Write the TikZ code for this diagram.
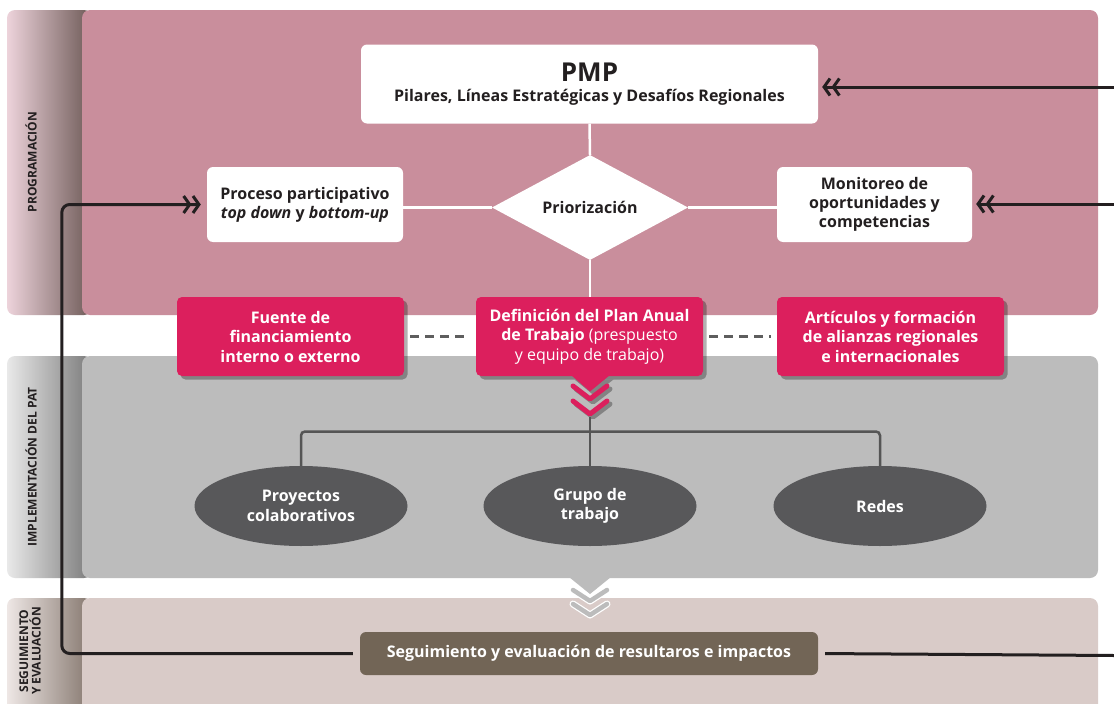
\documentclass[tikz,border=0pt]{standalone}
\usepackage{fontspec}
\setmainfont{Open Sans}
\usetikzlibrary{shapes.geometric,arrows.meta,shadows,calc}
\definecolor{pinkpanel}{HTML}{C98E9C}
\definecolor{pinkbox}{HTML}{DC1F5D}
\definecolor{graypanel}{HTML}{BCBCBC}
\definecolor{beigepanel}{HTML}{D9CBC8}
\definecolor{ellc}{HTML}{58585A}
\definecolor{segc}{HTML}{726556}
\definecolor{linec}{HTML}{231F20}
\definecolor{dashc}{HTML}{5E5E5E}
\definecolor{treec}{HTML}{555555}
\definecolor{tabAl}{HTML}{EDD3DB}
\definecolor{tabAm}{HTML}{C4A7AE}
\definecolor{tabAr}{HTML}{6E5A57}
\definecolor{tabBl}{HTML}{E9E9E9}
\definecolor{tabBm}{HTML}{C6C6C6}
\definecolor{tabBr}{HTML}{7A7A7A}
\definecolor{tabCl}{HTML}{EEE7E5}
\definecolor{tabCm}{HTML}{CFC3BF}
\definecolor{tabCr}{HTML}{85776E}
\begin{document}
\begin{tikzpicture}[x=1pt,y=-1pt,
  whitebox/.style={fill=white, rounded corners=6pt, minimum width=196pt, minimum height=75pt, align=center, inner sep=0pt, font=\bfseries\fontsize{16}{19}\selectfont, text=linec},
  pinkbx/.style={fill=pinkbox, rounded corners=5pt, minimum width=227pt, minimum height=79pt, align=center, inner sep=0pt, text=white, font=\bfseries\fontsize{16}{19.5}\selectfont,
     drop shadow={shadow xshift=3.5pt, shadow yshift=-3.5pt, fill=black, opacity=0.3}},
  ellip/.style={ellipse, fill=ellc, minimum width=213pt, minimum height=80pt, inner sep=0pt, align=center, text=white, font=\bfseries\fontsize{16}{19.5}\selectfont},
  conn/.style={line width=3pt, draw=linec},
  wline/.style={line width=2.5pt, draw=white},
  tline/.style={line width=2.5pt, draw=treec},
  dline/.style={line width=2.5pt, draw=dashc, dash pattern=on 9pt off 6pt},
  sidelabel/.style={rotate=90, align=center, text=linec, font=\bfseries\fontsize{12}{12.5}\selectfont},
  dchev/.style={-{Straight Barb[length=6pt,width=17pt] Straight Barb[length=6pt,width=17pt]}},
]
\clip (0,0) rectangle (1114,704);
\fill[white] (0,0) rectangle (1114,704);

% tabs
\shade[rounded corners=8pt, left color=tabAl, middle color=tabAm, right color=tabAr] (7,10) rectangle (92,315);
\shade[rounded corners=8pt, left color=tabBl, middle color=tabBm, right color=tabBr] (7,356) rectangle (92,578);
\shade[rounded corners=8pt, left color=tabCl, middle color=tabCm, right color=tabCr] (7,598) rectangle (92,720);
% panels
\fill[pinkpanel, rounded corners=8pt] (82,10) rectangle (1098,315);
\fill[graypanel, rounded corners=8pt] (82,356) rectangle (1098,578);
\fill[beigepanel, rounded corners=8pt] (82,598) rectangle (1098,720);
% gray pointer + chevrons
\fill[graypanel] (569,577) -- (590,594) -- (611,577) -- cycle;
\foreach \yy in {590,604}{
  \draw[white, line width=7pt, line cap=round, line join=round] (573,\yy) -- (590,\yy+11) -- (607,\yy);
  \draw[graypanel, line width=4.5pt, line cap=round, line join=round] (573,\yy) -- (590,\yy+11) -- (607,\yy);
}

% side labels
\node[sidelabel] (lab1) at (31,162) {PROGRAMACIÓN};
\node[sidelabel] (lab2) at (31,467) {IMPLEMENTACIÓN DEL PAT};
\node[sidelabel] (lab3) at (30,651) {SEGUIMIENTO\\Y EVALUACIÓN};

% nodes
\node[whitebox, minimum width=457pt, minimum height=79pt] (pmp) at (589.5,84)
  {{\fontsize{26}{28}\selectfont PMP}\\[1.5pt]Pilares, Líneas Estratégicas y Desafíos Regionales};
\node[whitebox] (proc) at (305,204.5) {Proceso participativo\\\textit{top down} y \textit{bottom-up}};
\node[whitebox, minimum width=195pt] (mon) at (874.5,204.5) {Monitoreo de\\oportunidades y\\competencias};
\node[diamond, fill=white, minimum width=196pt, minimum height=105pt, aspect=1.87, inner sep=0pt,
      font=\bfseries\fontsize{16}{18}\selectfont, text=linec] (prio) at (590,207.5) {Priorización};

% white links
\draw[wline] (pmp.south) -- (prio.north);
\draw[wline] (prio.west -| proc.east) -- (prio.west);
\draw[wline] (prio.east) -- (prio.east -| mon.west);
\draw[wline] (prio.south) -- (590,298);

% pink boxes
\node[pinkbx] (fue) at (290.5,336.5) {Fuente de\\financiamiento\\interno o externo};
\node[pinkbx] (def) at (589.5,336.5) {Definición del Plan Anual\\de Trabajo \mdseries(prespuesto\\\mdseries y equipo de trabajo)};
\node[pinkbx] (art) at (890.5,336.5) {Artículos y formación\\de alianzas regionales\\e internacionales};

% pointer under def
\fill[black, opacity=0.3] (574.5,379.5) -- (593.5,395) -- (613.5,379.5) -- cycle;
\fill[pinkbox] (571,375) -- (590,391.5) -- (610,375) -- cycle;
\foreach \yy in {386,401}{
  \draw[black, opacity=0.3, line width=5pt, line cap=round, line join=round] (576,\yy+3) -- (593,\yy+16) -- (610,\yy+3);
  \draw[pinkbox, line width=5pt, line cap=round, line join=round] (573,\yy) -- (590,\yy+13) -- (607,\yy);
}
\coordinate (cb) at (590,417);

% dashed links
\draw[dline, shorten <=6pt, shorten >=6pt] (fue.east) -- (def.west);
\draw[dline, shorten <=6pt, shorten >=6pt] (def.east) -- (art.west);

% ellipses
\node[ellip] (e1) at (301,506) {Proyectos\\colaborativos};
\node[ellip] (e2) at (590,506) {Grupo de\\trabajo};
\node[ellip] (e3) at (880,506) {Redes};
\coordinate (tb) at (590,431.5);
\draw[tline, rounded corners=4pt] (e1.north) -- (e1.north |- tb) -- (e3.north |- tb) -- (e3.north);
\draw[tline] (cb) -- (e2.north);

% seguimiento
\node[fill=segc, rounded corners=6pt, minimum width=458pt, minimum height=43pt, inner sep=0pt,
      text=white, font=\bfseries\fontsize{16}{18}\selectfont] (seg) at (589,653.5)
  {Seguimiento y evaluación de resultaros e impactos};

% black connectors
\coordinate (r1) at (1114,87);
\coordinate (r2) at (1114,204);
\coordinate (r3) at (1114,655.5);
\draw[conn, dchev, shorten >=4pt] (r1) -- (r1 -| pmp.east);
\draw[conn, dchev, shorten >=4pt] (r2) -- (r2 -| mon.east);
\draw[conn, shorten <=7pt] (seg.east) -- (r3);
\draw[conn, dchev, rounded corners=8pt, shorten <=7pt, shorten >=6pt] (seg.west) -- ++(-298,0) |- (proc.west);
\end{tikzpicture}
\end{document}
